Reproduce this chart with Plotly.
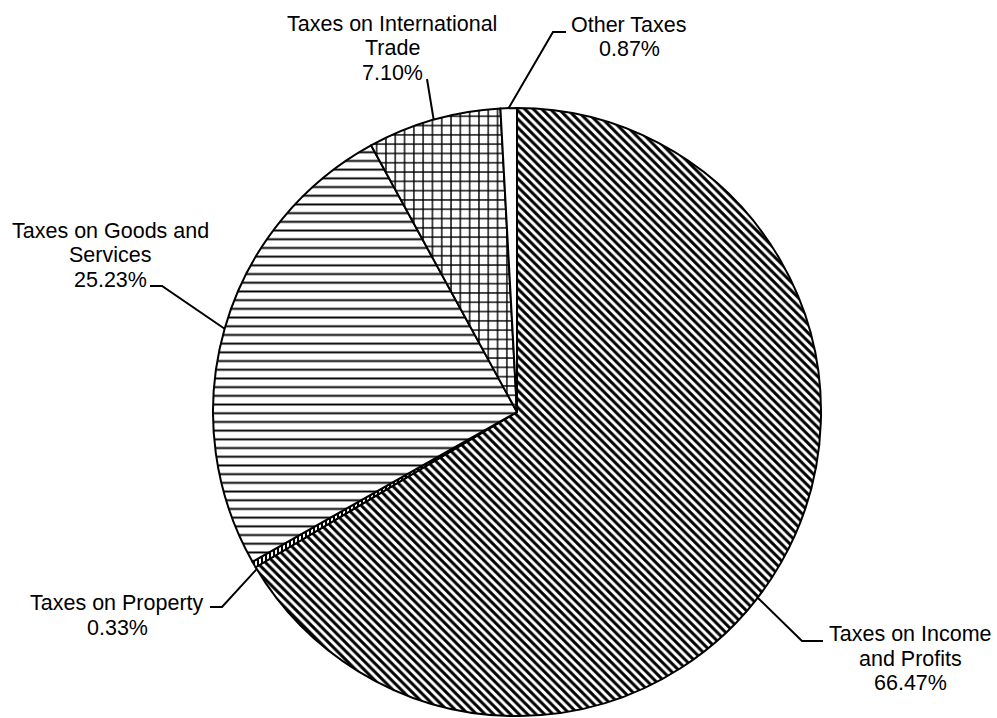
import math
import plotly.graph_objects as go

# ---- data ----
categories = ["Taxes on Income and Profits", "Taxes on Property",
              "Taxes on Goods and Services", "Taxes on International Trade",
              "Other Taxes"]
shares = [66.47, 0.33, 25.23, 7.10, 0.87]
label_lines = [["Taxes on Income", "and Profits"],
               ["Taxes on Property"],
               ["Taxes on Goods and", "Services"],
               ["Taxes on International", "Trade"],
               ["Other Taxes"]]

# ---- styles / layout ----
W, H = 997, 718
CX, CY, R = 517, 412, 304
patterns = ["\\", "|", "-", "+", ""]
pat_size = [6, 4, 8.7, 9.3, 8]
pat_solid = [0.5, 0.5, 0.22, 0.28, 0.3]
# label text block centre (px) of first line, and elbow segments (px)
label_pos = [(910, 634), (117, 603), (110, 231), (392, 24), (629, 25)]
elbow = [[(823, 641), (802, 641)], [(210, 607), (222, 607)],
         [(150, 286), (162, 286)], [(427, 79)], [(566, 32), (553, 32)]]
angle_offset = [8, -1, 0, 0, 0]
LINE_H = 24.5
FONT = dict(family="Liberation Sans, Arial, sans-serif", size=21.5, color="black")


def px(x):
    return x / W


def py(y):
    return 1 - y / H


fig = go.Figure(go.Pie(
    labels=categories, values=shares, sort=False, direction="clockwise",
    rotation=0, textinfo="none", hoverinfo="label+percent",
    marker=dict(colors=["white"] * 5,
                line=dict(color="black", width=2),
                pattern=dict(shape=patterns, fgcolor="black", bgcolor="white",
                             size=pat_size, solidity=pat_solid, fillmode="replace")),
    domain=dict(x=[px(CX - R), px(CX + R)], y=[py(CY + R), py(CY - R)]),
    showlegend=False,
))

annotations = []
shapes = []
total = sum(shares)
cum = 0.0
for i, v in enumerate(shares):
    mid = (cum + v / 2) / total * 360 + angle_offset[i]
    cum += v
    ax = CX + R * math.sin(math.radians(mid))
    ay = CY - R * math.cos(math.radians(mid))
    pts = elbow[i] + [(ax, ay)]
    path = "M " + " L ".join(f"{px(x):.5f},{py(y):.5f}" for x, y in pts)
    shapes.append(dict(type="path", xref="paper", yref="paper", path=path,
                       line=dict(color="black", width=2)))
    lines = label_lines[i] + [f"{v:.2f}%"]
    lx, ly = label_pos[i]
    for j, t in enumerate(lines):
        annotations.append(dict(text=t, x=px(lx), y=py(ly + j * LINE_H),
                                xref="paper", yref="paper", showarrow=False,
                                xanchor="center", yanchor="middle", font=FONT))

fig.update_layout(width=W, height=H, margin=dict(l=0, r=0, t=0, b=0),
                  paper_bgcolor="white", plot_bgcolor="white",
                  annotations=annotations, shapes=shapes)
fig.write_html("out.html", config={"displayModeBar": False},
               post_script="document.body.style.margin='0';"
                           "document.body.style.overflow='hidden';")
